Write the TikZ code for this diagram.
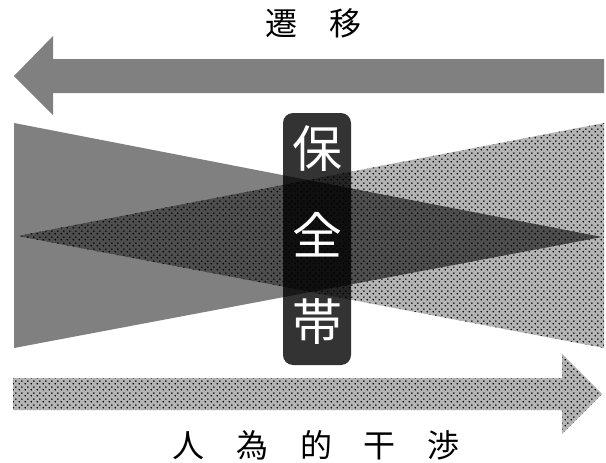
\documentclass[tikz,border=0pt]{standalone}
\usepackage{fontspec}
\newfontfamily\jp{Noto Sans CJK JP}
\usetikzlibrary{patterns.meta}
\pgfdeclarepattern{
  name=sparsedots,
  type=uncolored,
  bottom left={\pgfpoint{0pt}{0pt}},
  top right={\pgfpoint{6pt}{6pt}},
  tile size={\pgfpoint{6pt}{6pt}},
  code={
    \pgfpathcircle{\pgfpoint{1.5pt}{1.5pt}}{1pt}
    \pgfpathcircle{\pgfpoint{4.5pt}{4.5pt}}{1pt}
    \pgfusepath{fill}
  }
}
\definecolor{midgrey}{HTML}{808080}
\definecolor{lightgrey}{HTML}{B4B4B4}
\definecolor{darkgrey}{HTML}{4E4E4E}
\tikzset{
  greyshape/.style={fill=midgrey},
  dotshape/.style={fill=lightgrey},
  dotlayer/.style={pattern=sparsedots, pattern color=black},
  bandbox/.style={fill=black, fill opacity=0.8, rounded corners=10pt},
  boxchar/.style={text=white, font=\jp\fontsize{50}{50}\selectfont, inner sep=0pt},
  caption/.style={font=\jp\fontsize{32}{32}\selectfont, inner sep=0pt}
}
\begin{document}
\begin{tikzpicture}[x=1pt,y=-1pt]
\useasboundingbox (0,0) rectangle (606,463);
% top arrow (transition)
\fill[greyshape] (14,76) -- (53,36) -- (53,59) -- (604,59) -- (604,93) -- (53,93) -- (53,115) -- cycle;
\node[caption] (trans) at (313,23) {遷　移};
% grey triangle
\fill[greyshape] (14,123) -- (602,237) -- (14,348) -- cycle;
% dotted triangle
\fill[dotshape] (604,123) -- (17,236) -- (604,348) -- cycle;
\begin{scope}
  \clip (14,123) -- (602,237) -- (14,348) -- cycle;
  \fill[darkgrey] (604,123) -- (17,236) -- (604,348) -- cycle;
\end{scope}
\fill[dotlayer] (604,123) -- (17,236) -- (604,348) -- cycle;
% bottom arrow (human intervention)
\fill[dotshape] (13,378) -- (562,378) -- (562,354) -- (602,394) -- (562,434) -- (562,410) -- (13,410) -- cycle;
\fill[dotlayer] (13,378) -- (562,378) -- (562,354) -- (602,394) -- (562,434) -- (562,410) -- (13,410) -- cycle;
\node[caption] (human) at (316,445) {人　為　的　干　渉};
% buffer zone box
\fill[bandbox] (283,113) rectangle (351,365);
\node[boxchar] (c1) at (317,149) {保};
\node[boxchar] (c2) at (317,235) {全};
\node[boxchar] (c3) at (317,321) {帯};
\end{tikzpicture}
\end{document}
